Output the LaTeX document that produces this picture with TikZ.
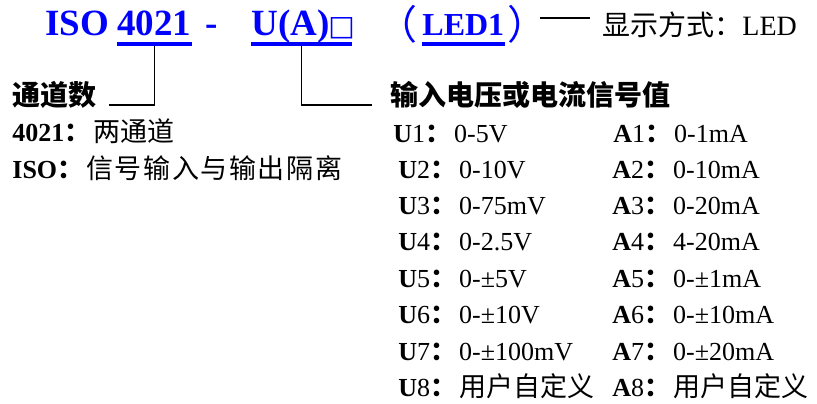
\documentclass[tikz,border=0pt]{standalone}
\usepackage{fontspec}
\setmainfont{Liberation Serif}
\newfontfamily\cjk{Noto Sans CJK SC}
\newfontfamily\symb{DejaVu Sans}
\definecolor{codeblue}{RGB}{0,0,255}
\tikzset{
  head/.style={anchor=base west, inner sep=0pt, text=codeblue, font=\fontsize{18.5}{20}\selectfont\bfseries},
  paren/.style={head, font=\fontsize{20}{20}\selectfont\cjk},
  title/.style={anchor=base west, inner sep=0pt, font=\fontsize{14}{16}\selectfont\cjk\bfseries},
  item/.style={anchor=base west, inner sep=0pt, font=\fontsize{13}{15}\selectfont},
  uline/.style={codeblue, line width=1.6pt},
  link/.style={line width=0.9pt, black}
}
\newcommand{\fc}{{\cjk\bfseries ：}\hspace{1.5pt}}
\newcommand{\zh}[1]{{\cjk\fontsize{13.5}{15}\selectfont #1}}
\begin{document}
\begin{tikzpicture}[x=0.5pt,y=-0.5pt]
\useasboundingbox (0,0) rectangle (817,403);

% code line
\node(ISO)[head] at (45,35) {ISO};
\node(Chan)[head] at (117,35) {4021};
\node(Dash)[head] at (205,35) {-};
\node(Sig)[head] at (251,35) {U(A)\hspace{1.2pt}\makebox[9.8pt][c]{\symb\mdseries\fontsize{14}{15}\selectfont □}};
\node(LParen)[paren] at (377,39) {（};
\node(Led)[head, font=\fontsize{16}{18}\selectfont\bfseries] at (422,35) {LED1};
\node(RParen)[paren] at (507,39) {）};
\node(Disp)[item, font=\fontsize{14}{16}\selectfont] at (602,35) {{\cjk 显示方式：}LED};
\draw[uline] ([yshift=-4.5pt]Chan.base west) -- ([yshift=-4.5pt]Chan.base east);
\draw[uline] ([yshift=-4.5pt]Sig.base west) -- ([yshift=-4.5pt]Sig.base east);
\draw[uline] ([yshift=-4.5pt]Led.base west) -- ([yshift=-4.5pt]Led.base east);
\coordinate(DashA) at (540,18);
\coordinate(DashB) at (590,18);
\draw[link] (DashA) -- (DashB);

% titles
\node(ChanT)[title] at (12,105) {通道数};
\node(SigT)[title] at (390,105) {输入电压或电流信号值};
\draw[link] ([yshift=-5.3pt]Chan.base) |- ([xshift=6pt]ChanT.base east);
\draw[link] ([yshift=-5.3pt]Sig.base) |- ([xshift=-9pt]SigT.base west);

% left notes
\node(N1)[item] at (12,141) {\textbf{4021}\fc\zh{两通道}};
\node(N2)[item] at (12,178) {\textbf{ISO}\fc{\cjk\fontsize{13.5}{15}\selectfont\addfontfeature{LetterSpace=6}信号输入与输出隔离}};

% signal list
\node(U1)[item] at (393,142) {\textbf{U}1\fc 0-5V};
\node(U2)[item] at (398,178) {\textbf{U}2\fc 0-10V};
\node(U3)[item] at (398,214) {\textbf{U}3\fc 0-75mV};
\node(U4)[item] at (398,250) {\textbf{U}4\fc 0-2.5V};
\node(U5)[item] at (398,287) {\textbf{U}5\fc 0-±5V};
\node(U6)[item] at (398,323) {\textbf{U}6\fc 0-±10V};
\node(U7)[item] at (398,360) {\textbf{U}7\fc 0-±100mV};
\node(U8)[item] at (398,396) {\textbf{U}8\fc\zh{用户自定义}};

\node(A1)[item] at (613,142) {\textbf{A}1\fc 0-1mA};
\node(A2)[item] at (612,178) {\textbf{A}2\fc 0-10mA};
\node(A3)[item] at (612,214) {\textbf{A}3\fc 0-20mA};
\node(A4)[item] at (612,250) {\textbf{A}4\fc 4-20mA};
\node(A5)[item] at (612,287) {\textbf{A}5\fc 0-±1mA};
\node(A6)[item] at (612,323) {\textbf{A}6\fc 0-±10mA};
\node(A7)[item] at (612,360) {\textbf{A}7\fc 0-±20mA};
\node(A8)[item] at (612,396) {\textbf{A}8\fc\zh{用户自定义}};
\end{tikzpicture}
\end{document}
